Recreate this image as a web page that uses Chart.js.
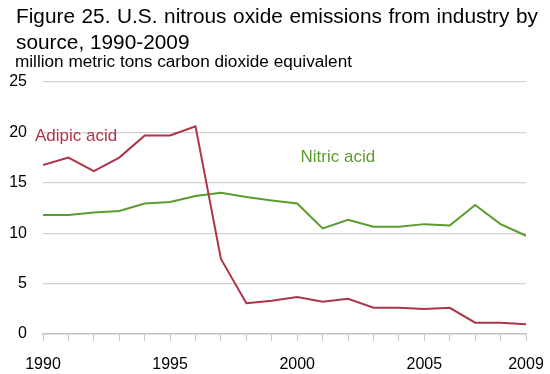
<!DOCTYPE html>
<html>
<head>
<meta charset="utf-8">
<script src="https://cdn.jsdelivr.net/npm/chart.js@4/dist/chart.umd.min.js"></script>
<style>
html,body{margin:0;padding:0;background:#fff;}
#wrap{width:550px;height:374px;position:relative;}
</style>
</head>
<body>
<div id="wrap"><canvas id="c" width="550" height="374"></canvas></div>
<script>
const years = [1990,1991,1992,1993,1994,1995,1996,1997,1998,1999,2000,2001,2002,2003,2004,2005,2006,2007,2008,2009];
const adipic = [16.75,17.5,16.15,17.5,19.7,19.7,20.6,7.45,3.05,3.3,3.67,3.2,3.5,2.6,2.6,2.48,2.6,1.12,1.12,0.96];
const nitric = [11.8,11.8,12.05,12.2,12.95,13.1,13.7,14.0,13.6,13.25,12.95,10.47,11.33,10.64,10.64,10.9,10.77,12.8,10.9,9.75];
const xTickLabels = [1990,1995,2000,2005,2009];
const titleLines = ["Figure 25. U.S. nitrous oxide emissions from industry by","source, 1990-2009"];
const subtitle = "million metric tons carbon dioxide equivalent";
const seriesNames = ["Adipic acid","Nitric acid"];
const RED = "#ae3448";
const GREEN = "#5b9c2e";
const FONT = "'Liberation Sans', Arial, sans-serif";

const textPlugin = {
  id: 'texts',
  afterDraw(chart) {
    const ctx = chart.ctx;
    ctx.save();
    ctx.fillStyle = '#000';
    ctx.textBaseline = 'alphabetic';
    ctx.textAlign = 'left';
    ctx.font = "20px " + FONT;
    const sx = 1.04;
    const words = titleLines[0].split(' ');
    const ww = words.map(w => ctx.measureText(w).width * sx);
    const total = ww.reduce((a,b)=>a+b,0);
    const gap = (522 - total) / (words.length - 1);
    let x = 16;
    words.forEach((w,i) => {
      ctx.save(); ctx.translate(x, 22.5); ctx.scale(sx,1); ctx.fillText(w,0,0); ctx.restore();
      x += ww[i] + gap;
    });
    ctx.save(); ctx.translate(16, 48.5); ctx.scale(sx,1); ctx.fillText(titleLines[1],0,0); ctx.restore();
    ctx.font = "16px " + FONT;
    const sw = ctx.measureText(subtitle).width;
    const ssx = 337 / sw;
    ctx.save(); ctx.translate(15, 67); ctx.scale(ssx,1); ctx.fillText(subtitle,0,0); ctx.restore();
    ctx.font = "17px " + FONT;
    ctx.fillStyle = RED;
    ctx.fillText(seriesNames[0], 35, 140.5);
    ctx.fillStyle = GREEN;
    ctx.fillText(seriesNames[1], 300.5, 162);
    ctx.restore();
  }
};

new Chart(document.getElementById('c'), {
  type: 'line',
  data: {
    datasets: [
      { label: seriesNames[0], data: years.map((y,i)=>({x:y, y:adipic[i]})), borderColor: RED, borderWidth: 2, pointRadius: 0, tension: 0, fill: false },
      { label: seriesNames[1], data: years.map((y,i)=>({x:y, y:nitric[i]})), borderColor: GREEN, borderWidth: 2, pointRadius: 0, tension: 0, fill: false }
    ]
  },
  options: {
    responsive: false,
    animation: false,
    devicePixelRatio: 1,
    layout: { padding: { top: 82, right: 24, left: 0, bottom: 0 } },
    plugins: { legend: { display: false }, title: { display: false }, tooltip: { enabled: false } },
    scales: {
      x: {
        type: 'linear', min: 1990, max: 2009,
        afterFit(s) { s.height = 40; s.paddingLeft = 0; s.paddingRight = 0; },
        afterBuildTicks(s) { s.ticks = years.map(v => ({ value: v })); },
        grid: { display: true, drawOnChartArea: false, drawTicks: true, tickLength: 7, color: '#c4c4c4', lineWidth: 1 },
        border: { display: true, color: '#c4c4c4', width: 1.5 },
        ticks: {
          autoSkip: false, maxRotation: 0, minRotation: 0, padding: 14,
          color: '#000', font: { family: FONT, size: 16 },
          callback: (v) => xTickLabels.includes(v) ? String(v) : ''
        }
      },
      y: {
        min: 0, max: 25,
        afterFit(s) { s.width = 43; s.paddingTop = 0; s.paddingBottom = 0; },
        grid: { color: '#d2d2d2', lineWidth: 1.2, drawTicks: false },
        border: { display: false },
        ticks: { stepSize: 5, padding: 16, color: '#000', font: { family: FONT, size: 16 } }
      }
    }
  },
  plugins: [textPlugin]
});
</script>
</body>
</html>
